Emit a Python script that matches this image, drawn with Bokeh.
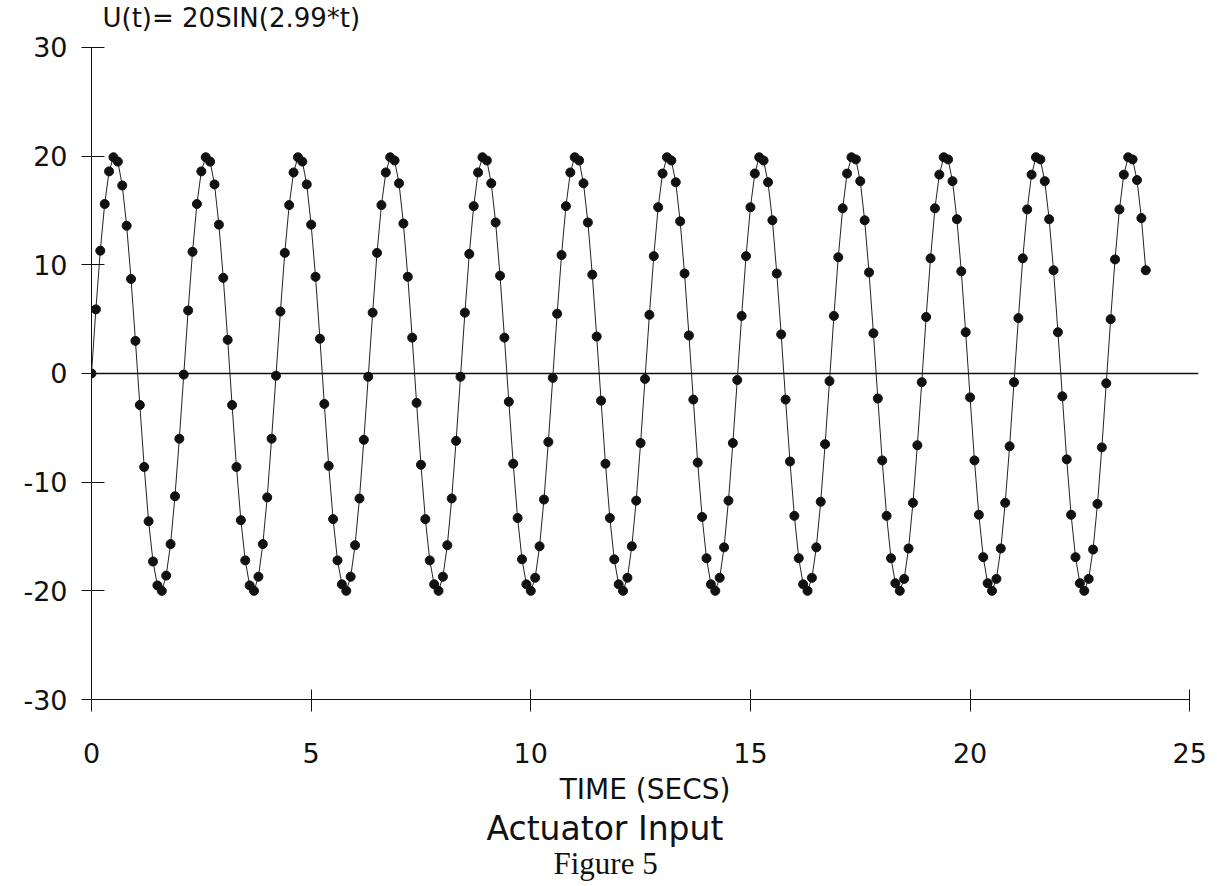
from bokeh.plotting import figure
from bokeh.models import Range1d, FixedTicker, Span, Label, Title
from bokeh.embed import file_html
from bokeh.resources import INLINE

time_s = [
    0.0, 0.1, 0.2, 0.3, 0.4, 0.5, 0.6, 0.7, 0.8, 0.9,
    1.0, 1.1, 1.2, 1.3, 1.4, 1.5, 1.6, 1.7, 1.8, 1.9,
    2.0, 2.1, 2.2, 2.3, 2.4, 2.5, 2.6, 2.7, 2.8, 2.9,
    3.0, 3.1, 3.2, 3.3, 3.4, 3.5, 3.6, 3.7, 3.8, 3.9,
    4.0, 4.1, 4.2, 4.3, 4.4, 4.5, 4.6, 4.7, 4.8, 4.9,
    5.0, 5.1, 5.2, 5.3, 5.4, 5.5, 5.6, 5.7, 5.8, 5.9,
    6.0, 6.1, 6.2, 6.3, 6.4, 6.5, 6.6, 6.7, 6.8, 6.9,
    7.0, 7.1, 7.2, 7.3, 7.4, 7.5, 7.6, 7.7, 7.8, 7.9,
    8.0, 8.1, 8.2, 8.3, 8.4, 8.5, 8.6, 8.7, 8.8, 8.9,
    9.0, 9.1, 9.2, 9.3, 9.4, 9.5, 9.6, 9.7, 9.8, 9.9,
    10.0, 10.1, 10.2, 10.3, 10.4, 10.5, 10.6, 10.7, 10.8, 10.9,
    11.0, 11.1, 11.2, 11.3, 11.4, 11.5, 11.6, 11.7, 11.8, 11.9,
    12.0, 12.1, 12.2, 12.3, 12.4, 12.5, 12.6, 12.7, 12.8, 12.9,
    13.0, 13.1, 13.2, 13.3, 13.4, 13.5, 13.6, 13.7, 13.8, 13.9,
    14.0, 14.1, 14.2, 14.3, 14.4, 14.5, 14.6, 14.7, 14.8, 14.9,
    15.0, 15.1, 15.2, 15.3, 15.4, 15.5, 15.6, 15.7, 15.8, 15.9,
    16.0, 16.1, 16.2, 16.3, 16.4, 16.5, 16.6, 16.7, 16.8, 16.9,
    17.0, 17.1, 17.2, 17.3, 17.4, 17.5, 17.6, 17.7, 17.8, 17.9,
    18.0, 18.1, 18.2, 18.3, 18.4, 18.5, 18.6, 18.7, 18.8, 18.9,
    19.0, 19.1, 19.2, 19.3, 19.4, 19.5, 19.6, 19.7, 19.8, 19.9,
    20.0, 20.1, 20.2, 20.3, 20.4, 20.5, 20.6, 20.7, 20.8, 20.9,
    21.0, 21.1, 21.2, 21.3, 21.4, 21.5, 21.6, 21.7, 21.8, 21.9,
    22.0, 22.1, 22.2, 22.3, 22.4, 22.5, 22.6, 22.7, 22.8, 22.9,
    23.0, 23.1, 23.2, 23.3, 23.4, 23.5, 23.6, 23.7, 23.8, 23.9,
    24.0,
]

u_values = [
    0.0, 5.9, 11.3, 15.6, 18.6, 19.9, 19.5, 17.3, 13.6, 8.7, 3.0,
    -2.9, -8.6, -13.6, -17.3, -19.5, -20.0, -18.6, -15.7, -11.3, -6.0,
    -0.1, 5.8, 11.2, 15.6, 18.6, 19.9, 19.5, 17.4, 13.7, 8.8, 3.1,
    -2.9, -8.6, -13.5, -17.2, -19.5, -20.0, -18.7, -15.7, -11.4, -6.0,
    -0.2, 5.7, 11.1, 15.5, 18.5, 19.9, 19.5, 17.4, 13.7, 8.9, 3.2,
    -2.8, -8.5, -13.4, -17.2, -19.4, -20.0, -18.7, -15.8, -11.5, -6.1,
    -0.3, 5.6, 11.1, 15.5, 18.5, 19.9, 19.6, 17.5, 13.8, 8.9, 3.3,
    -2.7, -8.4, -13.4, -17.2, -19.4, -20.0, -18.7, -15.8, -11.5, -6.2,
    -0.3, 5.6, 11.0, 15.4, 18.5, 19.9, 19.6, 17.5, 13.9, 9.0, 3.3,
    -2.6, -8.3, -13.3, -17.1, -19.4, -20.0, -18.8, -15.9, -11.6, -6.3,
    -0.4, 5.5, 10.9, 15.4, 18.5, 19.9, 19.6, 17.5, 13.9, 9.1, 3.4,
    -2.5, -8.3, -13.3, -17.1, -19.4, -20.0, -18.8, -15.9, -11.7, -6.4,
    -0.5, 5.4, 10.8, 15.3, 18.4, 19.9, 19.6, 17.6, 14.0, 9.2, 3.5,
    -2.4, -8.2, -13.2, -17.0, -19.4, -20.0, -18.8, -16.0, -11.7, -6.4,
    -0.6, 5.3, 10.8, 15.3, 18.4, 19.9, 19.6, 17.6, 14.1, 9.2, 3.6,
    -2.4, -8.1, -13.1, -17.0, -19.4, -20.0, -18.8, -16.0, -11.8, -6.5,
    -0.7, 5.3, 10.7, 15.2, 18.4, 19.9, 19.7, 17.7, 14.1, 9.3, 3.7,
    -2.3, -8.0, -13.1, -17.0, -19.3, -20.0, -18.9, -16.1, -11.9, -6.6,
    -0.8, 5.2, 10.6, 15.2, 18.3, 19.9, 19.7, 17.7, 14.2, 9.4, 3.8,
    -2.2, -8.0, -13.0, -16.9, -19.3, -20.0, -18.9, -16.1, -11.9, -6.7,
    -0.8, 5.1, 10.6, 15.1, 18.3, 19.9, 19.7, 17.7, 14.2, 9.5, 3.8,
    -2.1, -7.9, -13.0, -16.9, -19.3, -20.0, -18.9, -16.2, -12.0, -6.8,
    -0.9, 5.0, 10.5, 15.1, 18.3, 19.9, 19.7, 17.8, 14.3, 9.5,
]

x_ticks = [0, 5, 10, 15, 20, 25]
y_ticks = [-30, -20, -10, 0, 10, 20, 30]
y_tick_labels = ["-30", "-20", "-10", "0", "10", "20", "30"]

title_text = "U(t)= 20SIN(2.99*t)"
x_label = "TIME (SECS)"
caption_1 = "Actuator Input"
caption_2 = "Figure 5"

SANS = "DejaVu Sans"
INK = "#111111"

# the frame reaches above U = 30 so that the heading can sit inside it
p = figure(
    width=1212, height=884,
    x_range=Range1d(0, 25.2), y_range=Range1d(-30, 33.865),
    output_backend="svg", toolbar_location=None,
    min_border_left=91, min_border_right=14,
    min_border_top=5, min_border_bottom=185,
)
p.outline_line_color = None
p.xgrid.visible = False
p.ygrid.visible = False
p.background_fill_color = "white"
p.border_fill_color = "white"

# x axis
xa = p.xaxis[0]
xa.ticker = FixedTicker(ticks=x_ticks)
xa.bounds = (0, 25)
xa.axis_line_color = INK
xa.axis_line_width = 1
xa.major_tick_line_color = INK
xa.major_tick_in = 10
xa.major_tick_out = 12
xa.minor_tick_line_color = None
xa.major_label_standoff = 31
xa.major_label_text_font = SANS
xa.major_label_text_font_size = "27px"
xa.major_label_text_color = INK
xa.axis_label = x_label
xa.axis_label_text_font = SANS
xa.axis_label_text_font_size = "28px"
xa.axis_label_text_font_style = "normal"
xa.axis_label_text_color = INK
xa.axis_label_standoff = 7

# y axis
ya = p.yaxis[0]
ya.ticker = FixedTicker(ticks=y_ticks)
ya.major_label_overrides = {t: s for t, s in zip(y_ticks, y_tick_labels)}
ya.bounds = (-30, 30)
ya.axis_line_color = INK
ya.axis_line_width = 1
ya.major_tick_line_color = INK
ya.major_tick_in = 13
ya.major_tick_out = 10
ya.minor_tick_line_color = None
ya.major_label_standoff = 14
ya.major_label_text_font = SANS
ya.major_label_text_font_size = "27px"
ya.major_label_text_color = INK

# zero reference line
p.add_layout(Span(location=0, dimension="width", line_color=INK, line_width=1.5))

# heading above the curves
p.add_layout(Label(x=0.25, y=32.67, text=title_text, text_align="left",
                   text_baseline="middle", text_font=SANS, text_font_size="26px",
                   text_color=INK))

# captions under the chart
p.add_layout(Title(text=caption_1, align="left", offset=395, standoff=-4,
                   text_font=SANS, text_font_size="33px", text_font_style="normal",
                   text_color=INK), "below")
p.add_layout(Title(text=caption_2, align="left", offset=462, standoff=-4,
                   text_font="Liberation Serif", text_font_size="31px",
                   text_font_style="normal", text_color=INK), "below")

# data
p.line(time_s, u_values, line_color="#222222", line_width=1)
p.scatter(time_s, u_values, size=9, fill_color=INK, line_color=INK)

open("out.html", "w").write(file_html(p, INLINE))
